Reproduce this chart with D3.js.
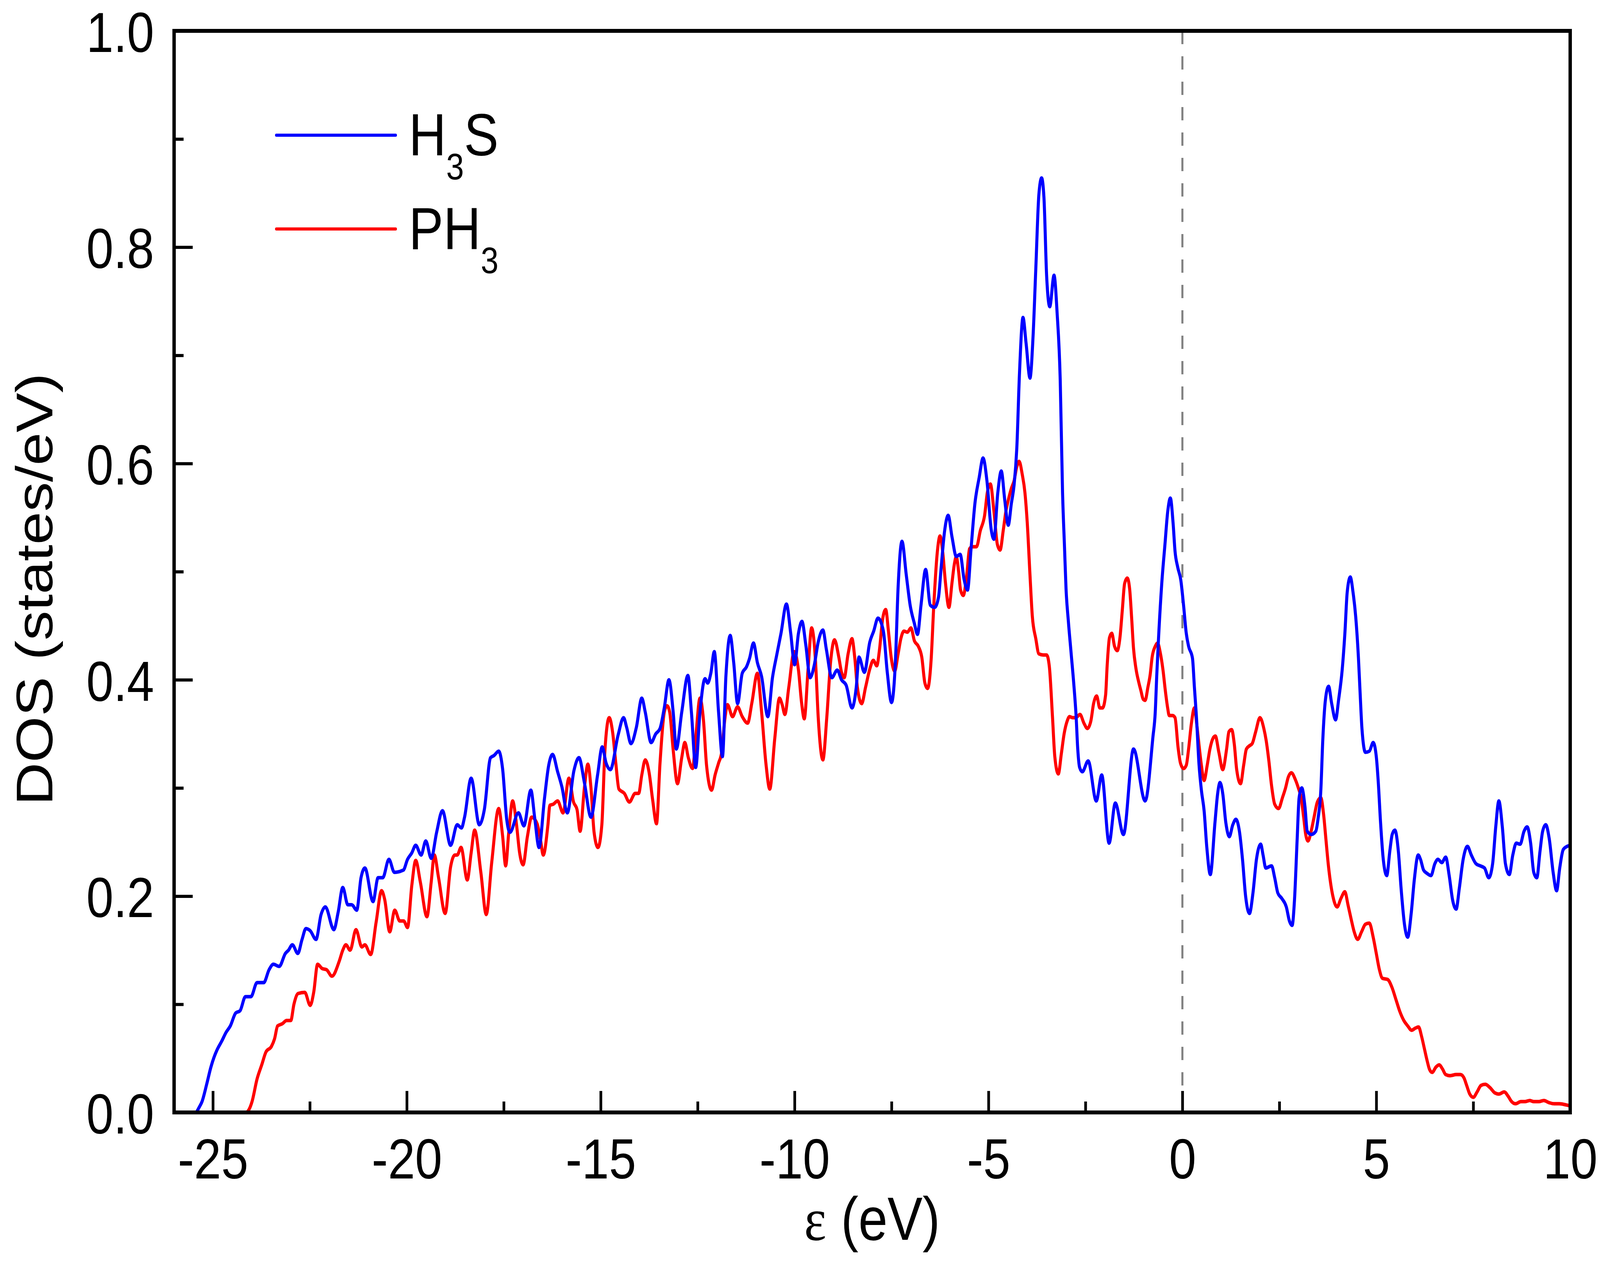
<!DOCTYPE html>
<html>
<head>
<meta charset="utf-8">
<script src="https://cdn.jsdelivr.net/npm/d3@7/dist/d3.min.js"></script>
<style>
  html, body { margin: 0; padding: 0; background: #ffffff; width: 100%; height: 100%; overflow: hidden; }
  svg { display: block; width: 100vw; height: 100vh; }
  text { font-family: "Liberation Sans", Arial, sans-serif; fill: #000; }
</style>
</head>
<body>
<svg id="chart" viewBox="0 0 4724 3240" preserveAspectRatio="none"></svg>
<script>
// ---------------- DATA ----------------
const seriesNames = ["H\u2083S", "PH\u2083"];

const energyH3S = [-26,-25.45,-25.35,-25.28,-25.16,-25.05,-24.97,-24.89,-24.77,-24.66,-24.55,-24.41,-24.30,-24.16,-24.02,-23.86,-23.69,-23.55,-23.44,-23.29,-23.13,-23.05,-22.95,-22.81,-22.70,-22.60,-22.49,-22.34,-22.21,-22.10,-21.88,-21.77,-21.65,-21.52,-21.42,-21.29,-21.18,-21.08,-20.87,-20.74,-20.62,-20.46,-20.32,-20.09,-19.98,-19.87,-19.77,-19.63,-19.51,-19.37,-19.23,-19.08,-18.87,-18.70,-18.59,-18.51,-18.34,-18.13,-18.00,-17.84,-17.75,-17.63,-17.53,-17.42,-17.34,-17.12,-16.98,-16.80,-16.70,-16.59,-16.45,-16.34,-16.24,-16.11,-16.00,-15.86,-15.69,-15.56,-15.42,-15.25,-15.08,-14.96,-14.86,-14.75,-14.55,-14.41,-14.33,-14.22,-14.08,-13.94,-13.85,-13.70,-13.58,-13.47,-13.36,-13.24,-13.13,-13.05,-12.91,-12.75,-12.66,-12.55,-12.44,-12.31,-12.24,-12.16,-12.07,-11.96,-11.86,-11.77,-11.66,-11.57,-11.47,-11.35,-11.24,-11.16,-11.06,-10.96,-10.85,-10.69,-10.57,-10.46,-10.35,-10.21,-10.10,-10.00,-9.90,-9.81,-9.71,-9.60,-9.49,-9.39,-9.27,-9.18,-9.04,-8.90,-8.79,-8.67,-8.52,-8.41,-8.34,-8.20,-8.06,-7.96,-7.85,-7.71,-7.61,-7.50,-7.40,-7.33,-7.23,-7.12,-7.02,-6.91,-6.83,-6.74,-6.62,-6.50,-6.39,-6.29,-6.22,-6.13,-6.04,-5.94,-5.83,-5.73,-5.63,-5.54,-5.45,-5.35,-5.24,-5.14,-5.04,-4.93,-4.86,-4.76,-4.67,-4.58,-4.49,-4.41,-4.34,-4.27,-4.20,-4.11,-4.03,-3.93,-3.85,-3.78,-3.70,-3.63,-3.57,-3.50,-3.42,-3.31,-3.23,-3.15,-3.09,-3.04,-3.00,-2.94,-2.87,-2.80,-2.74,-2.70,-2.65,-2.58,-2.43,-2.22,-2.08,-1.89,-1.73,-1.52,-1.26,-0.96,-0.76,-0.70,-0.66,-0.62,-0.53,-0.45,-0.38,-0.31,-0.24,-0.19,-0.12,-0.04,0.03,0.10,0.16,0.26,0.31,0.36,0.43,0.49,0.56,0.63,0.72,0.84,0.91,0.97,1.04,1.12,1.21,1.30,1.38,1.47,1.55,1.63,1.73,1.82,1.91,2.02,2.08,2.15,2.30,2.38,2.46,2.56,2.68,2.76,2.83,2.89,2.96,3.01,3.08,3.16,3.22,3.32,3.44,3.50,3.57,3.62,3.69,3.77,3.85,3.95,4.03,4.12,4.19,4.25,4.33,4.40,4.47,4.54,4.58,4.63,4.72,4.82,4.92,5.00,5.05,5.11,5.18,5.27,5.35,5.41,5.48,5.57,5.64,5.73,5.81,5.90,5.98,6.08,6.14,6.22,6.31,6.41,6.51,6.59,6.69,6.79,6.88,6.97,7.06,7.14,7.24,7.35,7.45,7.57,7.68,7.79,7.90,8.00,8.08,8.16,8.25,8.33,8.43,8.52,8.61,8.71,8.81,8.89,8.98,9.06,9.14,9.22,9.29,9.37,9.46,9.56,9.65,9.73,9.82,9.92,10.0];
const dosH3S = [0,0,0.005,0.010,0.026,0.042,0.051,0.058,0.066,0.074,0.080,0.092,0.094,0.107,0.107,0.120,0.120,0.132,0.137,0.135,0.147,0.150,0.155,0.147,0.160,0.170,0.168,0.160,0.183,0.190,0.169,0.185,0.208,0.192,0.192,0.187,0.217,0.226,0.195,0.217,0.217,0.234,0.222,0.224,0.234,0.240,0.247,0.238,0.251,0.235,0.259,0.279,0.247,0.266,0.263,0.273,0.309,0.266,0.280,0.328,0.330,0.334,0.318,0.270,0.259,0.277,0.265,0.298,0.272,0.245,0.290,0.321,0.331,0.315,0.301,0.277,0.316,0.328,0.305,0.273,0.312,0.338,0.323,0.317,0.349,0.365,0.356,0.341,0.356,0.383,0.370,0.342,0.350,0.355,0.374,0.400,0.370,0.336,0.370,0.404,0.370,0.319,0.370,0.401,0.397,0.406,0.426,0.370,0.329,0.404,0.441,0.416,0.378,0.406,0.412,0.420,0.434,0.416,0.403,0.366,0.402,0.423,0.443,0.470,0.443,0.414,0.443,0.454,0.432,0.402,0.414,0.435,0.446,0.428,0.402,0.409,0.400,0.395,0.374,0.393,0.421,0.407,0.435,0.445,0.457,0.445,0.407,0.379,0.417,0.486,0.528,0.497,0.469,0.452,0.442,0.469,0.502,0.469,0.467,0.476,0.504,0.538,0.552,0.532,0.514,0.516,0.493,0.483,0.521,0.563,0.587,0.605,0.584,0.539,0.530,0.573,0.593,0.566,0.543,0.563,0.580,0.614,0.684,0.735,0.711,0.679,0.718,0.780,0.849,0.864,0.846,0.773,0.745,0.774,0.739,0.677,0.573,0.523,0.484,0.454,0.425,0.396,0.366,0.337,0.319,0.315,0.325,0.288,0.312,0.249,0.286,0.257,0.336,0.288,0.347,0.370,0.405,0.435,0.490,0.525,0.555,0.568,0.545,0.519,0.504,0.492,0.469,0.443,0.431,0.420,0.393,0.367,0.321,0.298,0.279,0.245,0.220,0.268,0.295,0.305,0.295,0.268,0.255,0.266,0.271,0.260,0.234,0.200,0.184,0.203,0.234,0.248,0.238,0.226,0.228,0.217,0.203,0.198,0.190,0.177,0.173,0.196,0.253,0.291,0.300,0.283,0.260,0.257,0.260,0.272,0.298,0.344,0.382,0.394,0.378,0.363,0.382,0.409,0.443,0.481,0.495,0.481,0.458,0.420,0.390,0.355,0.333,0.334,0.342,0.329,0.306,0.268,0.234,0.219,0.242,0.257,0.261,0.241,0.207,0.173,0.162,0.184,0.215,0.238,0.234,0.224,0.221,0.219,0.230,0.234,0.231,0.236,0.219,0.196,0.188,0.207,0.234,0.246,0.238,0.230,0.228,0.226,0.217,0.230,0.264,0.288,0.264,0.230,0.220,0.238,0.249,0.248,0.260,0.264,0.249,0.222,0.217,0.241,0.260,0.266,0.253,0.222,0.205,0.226,0.243,0.246,0.247];

const energyPH3 = [-26,-24.15,-24.05,-23.99,-23.86,-23.74,-23.63,-23.49,-23.41,-23.33,-23.21,-23.10,-22.99,-22.91,-22.80,-22.63,-22.49,-22.40,-22.30,-22.18,-22.07,-21.93,-21.74,-21.65,-21.57,-21.46,-21.31,-21.16,-21.08,-20.93,-20.79,-20.65,-20.57,-20.44,-20.31,-20.18,-20.08,-19.98,-19.87,-19.77,-19.65,-19.48,-19.37,-19.29,-19.18,-19.01,-18.87,-18.76,-18.70,-18.60,-18.44,-18.34,-18.25,-18.09,-17.95,-17.81,-17.63,-17.53,-17.45,-17.37,-17.27,-17.17,-17.09,-17.00,-16.89,-16.78,-16.64,-16.56,-16.48,-16.36,-16.31,-16.22,-16.11,-15.97,-15.82,-15.70,-15.61,-15.53,-15.42,-15.33,-15.25,-15.17,-15.07,-14.97,-14.89,-14.78,-14.69,-14.61,-14.53,-14.39,-14.26,-14.11,-14.02,-13.94,-13.85,-13.75,-13.66,-13.56,-13.47,-13.36,-13.29,-13.22,-13.13,-13.02,-12.91,-12.83,-12.74,-12.63,-12.55,-12.44,-12.35,-12.27,-12.14,-12.05,-11.96,-11.88,-11.80,-11.73,-11.60,-11.47,-11.35,-11.21,-11.10,-10.96,-10.85,-10.74,-10.64,-10.51,-10.39,-10.32,-10.25,-10.15,-10.01,-9.90,-9.82,-9.75,-9.65,-9.56,-9.46,-9.39,-9.27,-9.17,-9.07,-8.97,-8.86,-8.79,-8.72,-8.62,-8.52,-8.45,-8.38,-8.27,-8.17,-8.06,-7.97,-7.88,-7.81,-7.73,-7.65,-7.58,-7.51,-7.42,-7.33,-7.26,-7.18,-7.09,-7.00,-6.91,-6.81,-6.72,-6.64,-6.57,-6.48,-6.41,-6.32,-6.25,-6.18,-6.11,-6.02,-5.94,-5.88,-5.83,-5.77,-5.72,-5.65,-5.56,-5.49,-5.42,-5.31,-5.21,-5.10,-5.03,-4.95,-4.86,-4.77,-4.70,-4.62,-4.55,-4.49,-4.41,-4.34,-4.27,-4.21,-4.13,-4.06,-4.00,-3.93,-3.87,-3.78,-3.70,-3.59,-3.50,-3.43,-3.35,-3.29,-3.20,-3.12,-3.05,-2.97,-2.91,-2.83,-2.75,-2.64,-2.54,-2.45,-2.36,-2.29,-2.21,-2.13,-2.06,-1.98,-1.94,-1.88,-1.82,-1.75,-1.68,-1.61,-1.55,-1.49,-1.42,-1.36,-1.31,-1.26,-1.20,-1.12,-1.07,-1.01,-0.96,-0.89,-0.83,-0.78,-0.70,-0.64,-0.57,-0.50,-0.44,-0.38,-0.34,-0.25,-0.19,-0.11,-0.05,0.03,0.10,0.16,0.23,0.31,0.37,0.44,0.49,0.56,0.64,0.71,0.79,0.85,0.94,1.04,1.14,1.20,1.27,1.34,1.40,1.50,1.58,1.65,1.73,1.80,1.89,2.00,2.10,2.16,2.23,2.30,2.38,2.48,2.58,2.66,2.73,2.81,2.91,2.99,3.06,3.13,3.18,3.24,3.32,3.39,3.48,3.57,3.64,3.70,3.76,3.81,3.88,3.99,4.09,4.19,4.27,4.35,4.43,4.52,4.62,4.72,4.82,4.92,5.00,5.08,5.16,5.29,5.40,5.51,5.61,5.71,5.81,5.91,6.01,6.09,6.17,6.24,6.31,6.37,6.44,6.54,6.62,6.71,6.79,6.90,7.06,7.17,7.26,7.33,7.41,7.50,7.60,7.70,7.81,7.93,8.06,8.16,8.30,8.40,8.49,8.59,8.73,8.83,8.96,9.06,9.19,9.32,9.46,9.59,9.72,9.89,10.0];
const dosPH3 = [0,0,0.004,0.010,0.031,0.044,0.056,0.061,0.068,0.080,0.082,0.085,0.085,0.100,0.110,0.111,0.099,0.111,0.137,0.133,0.132,0.126,0.140,0.150,0.155,0.150,0.169,0.153,0.155,0.146,0.176,0.205,0.197,0.167,0.187,0.177,0.177,0.171,0.210,0.233,0.213,0.181,0.213,0.238,0.217,0.184,0.227,0.238,0.238,0.245,0.215,0.240,0.261,0.222,0.183,0.231,0.281,0.256,0.228,0.259,0.288,0.266,0.240,0.229,0.255,0.273,0.267,0.254,0.238,0.266,0.284,0.285,0.288,0.277,0.309,0.287,0.280,0.260,0.300,0.322,0.300,0.259,0.245,0.266,0.335,0.365,0.351,0.323,0.299,0.295,0.287,0.295,0.295,0.312,0.326,0.314,0.289,0.267,0.323,0.370,0.376,0.370,0.335,0.304,0.328,0.342,0.328,0.318,0.346,0.383,0.363,0.321,0.298,0.312,0.323,0.333,0.363,0.377,0.366,0.375,0.366,0.360,0.379,0.406,0.370,0.323,0.299,0.346,0.383,0.377,0.368,0.393,0.426,0.409,0.379,0.364,0.411,0.448,0.417,0.365,0.326,0.365,0.417,0.437,0.421,0.407,0.402,0.424,0.438,0.421,0.393,0.378,0.393,0.410,0.418,0.413,0.428,0.456,0.465,0.445,0.421,0.408,0.424,0.438,0.445,0.444,0.448,0.436,0.431,0.421,0.397,0.392,0.418,0.469,0.518,0.533,0.518,0.490,0.467,0.490,0.507,0.514,0.500,0.483,0.478,0.497,0.521,0.523,0.523,0.538,0.552,0.573,0.581,0.556,0.525,0.520,0.538,0.556,0.566,0.577,0.584,0.597,0.602,0.590,0.573,0.545,0.497,0.459,0.438,0.424,0.423,0.423,0.412,0.366,0.329,0.313,0.332,0.350,0.362,0.366,0.365,0.365,0.368,0.360,0.355,0.362,0.378,0.385,0.374,0.374,0.386,0.413,0.439,0.443,0.431,0.427,0.439,0.464,0.489,0.494,0.484,0.458,0.429,0.411,0.397,0.390,0.382,0.381,0.393,0.405,0.421,0.431,0.434,0.425,0.409,0.390,0.374,0.367,0.367,0.365,0.337,0.323,0.318,0.321,0.336,0.359,0.374,0.359,0.336,0.321,0.307,0.321,0.336,0.346,0.348,0.333,0.317,0.336,0.352,0.354,0.340,0.317,0.304,0.321,0.336,0.339,0.341,0.352,0.365,0.355,0.344,0.325,0.302,0.285,0.281,0.291,0.300,0.310,0.314,0.308,0.300,0.291,0.272,0.257,0.251,0.260,0.272,0.287,0.291,0.276,0.253,0.230,0.215,0.200,0.190,0.198,0.204,0.192,0.179,0.167,0.160,0.167,0.174,0.175,0.162,0.147,0.132,0.124,0.123,0.116,0.104,0.093,0.085,0.080,0.076,0.078,0.079,0.070,0.059,0.048,0.040,0.037,0.042,0.044,0.040,0.035,0.034,0.035,0.035,0.032,0.025,0.017,0.014,0.019,0.025,0.026,0.023,0.018,0.017,0.019,0.015,0.010,0.008,0.010,0.010,0.011,0.010,0.010,0.011,0.009,0.008,0.008,0.007,0.006];

const xMajorTicks = [-25, -20, -15, -10, -5, 0, 5, 10];
const xMinorTicks = [-22.5, -17.5, -12.5, -7.5, -2.5, 2.5, 7.5];
const yMajorTicks = [0, 0.2, 0.4, 0.6, 0.8, 1.0];
const yMinorTicks = [0.1, 0.3, 0.5, 0.7, 0.9];
const xDomain = [-26, 10];
const yDomain = [0, 1];
const xTitle = "(eV)";
const yTitle = "DOS (states/eV)";

// ---------------- DRAW ----------------
const svg = d3.select("#chart");
svg.append("rect").attr("width", 4724).attr("height", 3240).attr("fill", "#fff");

const L = 514, R = 4636, T = 79, B = 2847;
const x = d3.scaleLinear().domain(xDomain).range([L, R]);
const y = d3.scaleLinear().domain(yDomain).range([B, T]);

// Fermi level dashed line
svg.append("line")
  .attr("x1", x(0)).attr("x2", x(0)).attr("y1", T).attr("y2", B)
  .attr("stroke", "#808080").attr("stroke-width", 6)
  .attr("stroke-dasharray", "34,31");

const line = d3.line().x(d => x(d[0])).y(d => y(d[1])).curve(d3.curveMonotoneX);
const h3s = energyH3S.map((e, i) => [e, dosH3S[i]]);
const ph3 = energyPH3.map((e, i) => [e, dosPH3[i]]);

svg.append("path").datum(ph3).attr("d", line)
  .attr("fill", "none").attr("stroke", "#ff0000").attr("stroke-width", 9)
  .attr("stroke-linejoin", "round");
svg.append("path").datum(h3s).attr("d", line)
  .attr("fill", "none").attr("stroke", "#0000ff").attr("stroke-width", 9)
  .attr("stroke-linejoin", "round");

// Axes (ticks inward)
const fmtY = d3.format(".1f");
const gx = svg.append("g").attr("transform", `translate(0,${B})`)
  .call(d3.axisBottom(x).tickValues(xMajorTicks).tickSize(-55).tickPadding(67).tickFormat(d3.format("d")));
const gxm = svg.append("g").attr("transform", `translate(0,${B})`)
  .call(d3.axisBottom(x).tickValues(xMinorTicks).tickSize(-28).tickFormat(""));
const gy = svg.append("g").attr("transform", `translate(${L},0)`)
  .call(d3.axisLeft(y).tickValues(yMajorTicks).tickSize(-55).tickPadding(59).tickFormat(fmtY));
const gym = svg.append("g").attr("transform", `translate(${L},0)`)
  .call(d3.axisLeft(y).tickValues(yMinorTicks).tickSize(-28).tickFormat(""));

[gx, gxm, gy, gym].forEach(g => {
  g.select(".domain").remove();
  g.selectAll(".tick line").attr("stroke", "#000").attr("stroke-width", 8);
  g.selectAll("text").attr("font-family", "Liberation Sans, Arial, sans-serif")
    .attr("font-size", 144).attr("fill", "#000");
});
gx.selectAll(".tick text").text(d => String(d).replace("\u2212", "-"));
gy.selectAll(".tick text").attr("dy", "0.37em");

// Frame
svg.append("rect").attr("x", L).attr("y", T).attr("width", R - L).attr("height", B - T)
  .attr("fill", "none").attr("stroke", "#000").attr("stroke-width", 10);

// Axis titles
const xt = svg.append("text").attr("x", (L + R) / 2).attr("y", 3173)
  .attr("text-anchor", "middle").attr("font-size", 155);
xt.append("tspan").attr("font-family", "Liberation Serif, Times New Roman, serif").text("\u03b5");
xt.append("tspan").text(" " + xTitle);

svg.append("text").attr("transform", "translate(154,1508) rotate(-90)")
  .attr("text-anchor", "middle").attr("font-size", 152).text(yTitle);

// Legend
const legendItems = [
  { color: "#0000ff", ly: 346, base: "H", sub: "3", tail: "S", ty: 398 },
  { color: "#ff0000", ly: 586, base: "PH", sub: "3", tail: "", ty: 638 }
];
legendItems.forEach(it => {
  svg.append("line").attr("x1", 816).attr("x2", 1168).attr("y1", it.ly).attr("y2", it.ly)
    .attr("stroke", it.color).attr("stroke-width", 8).attr("stroke-linecap", "round");
  const t = svg.append("text").attr("x", 1207).attr("y", it.ty).attr("font-size", 153);
  t.append("tspan").text(it.base);
  t.append("tspan").attr("dy", 61).attr("font-size", 94).text(it.sub);
  if (it.tail) t.append("tspan").attr("dy", -61).text(it.tail);
});
</script>
</body>
</html>
